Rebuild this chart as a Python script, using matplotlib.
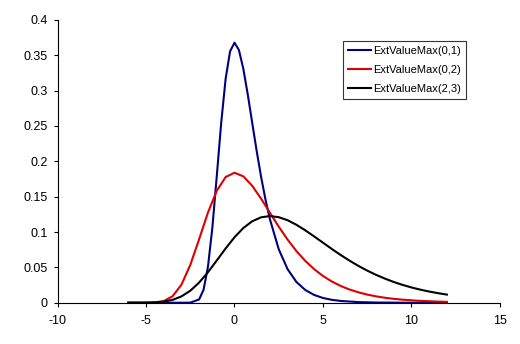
import matplotlib
matplotlib.use("Agg")
import matplotlib.pyplot as plt

plt.rcParams['font.family'] = ['Liberation Sans', 'DejaVu Sans']

# ExtValueMax(0,1) - finer spacing around the narrow peak
x_01 = [-6, -5, -4, -3, -2.5, -2, -1.75, -1.5, -1.25, -1, -0.75, -0.5, -0.25, 0,
        0.25, 0.5, 0.75, 1, 1.25, 1.5, 1.75, 2, 2.5, 3, 3.5, 4, 4.5, 5, 5.5, 6,
        7, 8, 9, 10, 11, 12]
y_01 = [0, 0, 0, 0, 0.0001, 0.0046, 0.0182, 0.0507, 0.1065, 0.1794, 0.2549, 0.3170,
        0.3556, 0.3679, 0.3574, 0.3307, 0.2945, 0.2546, 0.2151, 0.1785, 0.1460,
        0.1182, 0.0756, 0.0474, 0.0293, 0.0180, 0.0110, 0.0067, 0.0041, 0.0025,
        0.0009, 0.0003, 0.0001, 0, 0, 0]

# ExtValueMax(0,2) and ExtValueMax(2,3) share the same x grid
x_grid = [-6, -5.5, -5, -4.5, -4, -3.5, -3, -2.5, -2, -1.5, -1, -0.5, 0, 0.5, 1, 1.5,
          2, 2.5, 3, 3.5, 4, 4.5, 5, 5.5, 6, 6.5, 7, 7.5, 8, 8.5, 9, 9.5, 10, 10.5,
          11, 11.5, 12]
y_02 = [0, 0, 0, 0.0004, 0.0023, 0.0091, 0.0254, 0.0533, 0.0897, 0.1275, 0.1585,
        0.1778, 0.1839, 0.1787, 0.1654, 0.1473, 0.1273, 0.1076, 0.0893, 0.0730,
        0.0591, 0.0475, 0.0378, 0.0300, 0.0237, 0.0187, 0.0147, 0.0115, 0.0090,
        0.0070, 0.0055, 0.0043, 0.0034, 0.0026, 0.0021, 0.0016, 0.0012]
y_23 = [0, 0, 0.0001, 0.0005, 0.0015, 0.0040, 0.0089, 0.0169, 0.0285, 0.0431, 0.0598,
        0.0768, 0.0926, 0.1057, 0.1152, 0.1208, 0.1226, 0.1210, 0.1167, 0.1102,
        0.1024, 0.0938, 0.0849, 0.0760, 0.0675, 0.0595, 0.0521, 0.0454, 0.0394,
        0.0341, 0.0293, 0.0252, 0.0216, 0.0185, 0.0158, 0.0135, 0.0115]

labels = ["ExtValueMax(0,1)", "ExtValueMax(0,2)", "ExtValueMax(2,3)"]
colors = ["#000080", "#dd0000", "#000000"]

x_ticks = [-10, -5, 0, 5, 10, 15]
y_ticks = [0, 0.05, 0.1, 0.15, 0.2, 0.25, 0.3, 0.35, 0.4]
y_tick_labels = ["0", "0.05", "0.1", "0.15", "0.2", "0.25", "0.3", "0.35", "0.4"]

fig = plt.figure(figsize=(5.2, 3.44), dpi=100)
ax = fig.add_axes([0.1106, 0.120, 0.8509, 0.822])

ax.plot(x_01, y_01, color=colors[0], lw=1.5, label=labels[0])
ax.plot(x_grid, y_02, color=colors[1], lw=1.5, label=labels[1])
ax.plot(x_grid, y_23, color=colors[2], lw=1.5, label=labels[2])

ax.set_xlim(-10, 15)
ax.set_ylim(0, 0.4)
ax.set_xticks(x_ticks)
ax.set_xticklabels([str(t) for t in x_ticks])
ax.set_yticks(y_ticks)
ax.set_yticklabels(y_tick_labels)
ax.tick_params(direction='out', length=3, width=0.8, labelsize=9, colors='black')
ax.tick_params(axis='x', pad=6)
ax.tick_params(axis='y', pad=4)

for side in ['top', 'right']:
    ax.spines[side].set_visible(False)
for side in ['left', 'bottom']:
    ax.spines[side].set_linewidth(0.8)
    ax.spines[side].set_color('black')

leg = ax.legend(loc='upper left', bbox_to_anchor=(343 / 520, 1 - 41 / 344),
                bbox_transform=fig.transFigure, fontsize=8, frameon=True,
                fancybox=False, handlelength=2.1, handletextpad=0.15,
                borderpad=0.45, labelspacing=0.8, borderaxespad=0)
leg.get_frame().set_edgecolor('black')
leg.get_frame().set_linewidth(0.8)

fig.savefig("out.png", dpi=100)
